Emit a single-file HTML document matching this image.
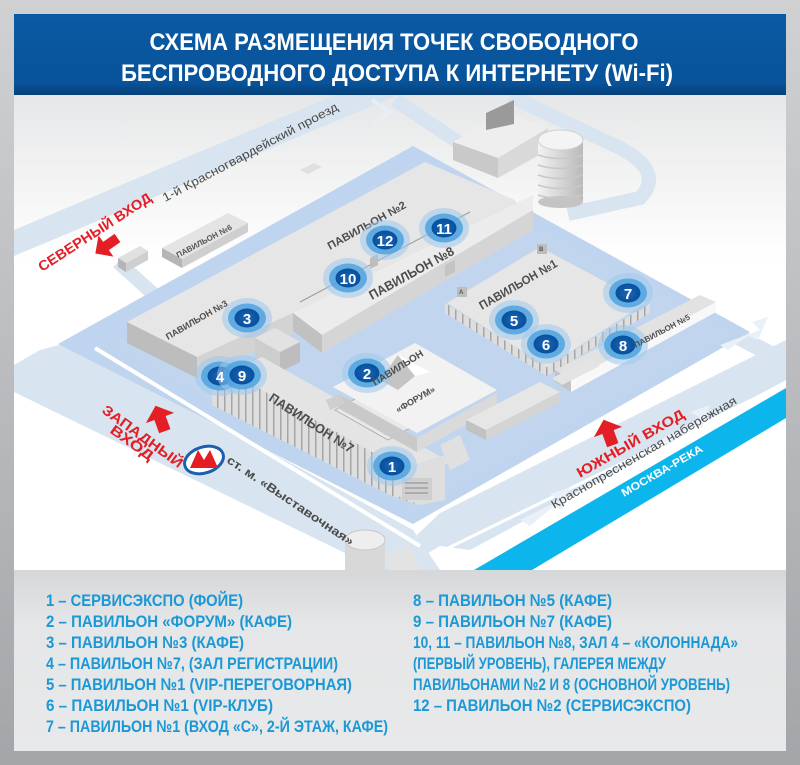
<!DOCTYPE html>
<html><head><meta charset="utf-8"><style>
html,body{margin:0;padding:0;width:800px;height:765px;overflow:hidden}
svg{display:block}
text{font-family:"Liberation Sans",sans-serif;font-weight:bold}
text.n{font-weight:normal}
</style></head><body>
<svg width="800" height="765" viewBox="0 0 800 765" xmlns="http://www.w3.org/2000/svg">
<defs>
<linearGradient id="bg" x1="0" y1="0" x2="0" y2="1"><stop offset="0" stop-color="#d0d1d3"/><stop offset="1" stop-color="#a3a5a8"/></linearGradient>
<linearGradient id="hd" x1="0" y1="0" x2="0" y2="1"><stop offset="0" stop-color="#0b5aa3"/><stop offset=".85" stop-color="#08539a"/><stop offset="1" stop-color="#063f78"/></linearGradient>
<linearGradient id="mp" x1="0" y1="0" x2="0" y2="1"><stop offset="0" stop-color="#e6e7e8"/><stop offset=".35" stop-color="#ffffff"/><stop offset="1" stop-color="#ffffff"/></linearGradient>
<linearGradient id="lg" x1="0" y1="0" x2="0" y2="1"><stop offset="0" stop-color="#d6d7d9"/><stop offset=".3" stop-color="#e5e6e7"/><stop offset="1" stop-color="#e8e9ea"/></linearGradient>
<linearGradient id="tw" x1="0" y1="0" x2="1" y2="0"><stop offset="0" stop-color="#f2f2f2"/><stop offset="1" stop-color="#b9b9b9"/></linearGradient>
<pattern id="rib" width="7" height="4" patternUnits="userSpaceOnUse"><rect width="7" height="4" fill="#dedede"/><rect width="1.5" height="4" fill="#a5a5a5"/></pattern>
<radialGradient id="mk"><stop offset="0" stop-color="#1a66b5"/><stop offset="1" stop-color="#084f9c"/></radialGradient>
<g id="m">
<ellipse rx="25" ry="20" fill="#9fc9ec" opacity=".55"/>
<ellipse rx="19" ry="14.5" fill="#4ea3df" opacity=".85"/>
<ellipse rx="12.5" ry="9.5" fill="url(#mk)"/>
</g>
</defs>
<rect width="800" height="765" fill="url(#bg)"/>
<rect x="14" y="14" width="772" height="81" fill="url(#hd)"/>
<text x="394" y="50" fill="#fff" font-size="24" text-anchor="middle" textLength="489" lengthAdjust="spacingAndGlyphs">СХЕМА РАЗМЕЩЕНИЯ ТОЧЕК СВОБОДНОГО</text>
<text x="397" y="81" fill="#fff" font-size="24" text-anchor="middle" textLength="552" lengthAdjust="spacingAndGlyphs">БЕСПРОВОДНОГО ДОСТУПА К ИНТЕРНЕТУ (Wi-Fi)</text>
<rect x="14" y="95" width="772" height="475" fill="url(#mp)"/>
<clipPath id="mc"><rect x="14" y="95" width="772" height="475"/></clipPath>
<g clip-path="url(#mc)">
<polygon points="14,230 335,95 398,95 14,256" fill="#d8e4ef"/>
<path d="M372,100 L390,112 L372,125" fill="none" stroke="#e6eef6" stroke-width="4"/>
<path d="M395,100 L470,150" stroke="#d8e4ef" stroke-width="14" fill="none"/>
<path d="M510,96 L620,148 Q665,172 640,198 L568,214" stroke="#d8e4ef" stroke-width="14" fill="none"/>
<path d="M500,212 L786,362" stroke="#d8e4ef" stroke-width="16" fill="none"/>
<path d="M118,262 L160,300" stroke="#d8e4ef" stroke-width="14" fill="none"/>
<polygon points="40,350 70,342 413,530 440,570 380,570 14,392 14,365" fill="#d8e4ef"/>
<polygon points="440,513 786,340 786,380 470,550 440,546 400,570 380,570" fill="#d8e4ef"/>
<polygon points="58,344 413,146 750,332 413,524" fill="#bfd4ee"/>
<polygon points="110,345 413,162 735,332 413,512" fill="#c3d7ef" opacity=".6"/>
<line x1="95" y1="348" x2="420" y2="546" stroke="#fff" stroke-width="4"/>
<line x1="440" y1="552" x2="786" y2="383" stroke="#fff" stroke-width="3"/>
<g fill="#e9f0f7">
<polygon points="720,345 760,330 752,322 768,317 758,340 748,336 728,350"/>
<polygon points="660,440 700,418 690,412 710,405 702,428 694,424 670,444"/>
<polygon points="520,520 560,500 550,494 570,487 562,510 554,506 530,526"/>
</g>
<polygon points="474,570 786,388 786,418 532,570" fill="#0cb6ec"/>
<text transform="translate(624,497) rotate(-30)" fill="#fff" font-size="11" textLength="92" lengthAdjust="spacingAndGlyphs">МОСКВА-РЕКА</text>

<polygon points="453,142 505,113 548,128 498,158" fill="#eeeeee"/>
<polygon points="453,142 498,158 498,178 453,160" fill="#c9c9c9"/>
<polygon points="498,158 548,128 548,150 498,178" fill="#d9d9d9"/>
<polygon points="486,113 514,100 514,124 486,130" fill="#9a9a9a"/>
<rect x="538" y="140" width="45" height="62" fill="url(#tw)"/>
<ellipse cx="560.5" cy="202" rx="22.5" ry="6" fill="#c4c4c4"/>
<ellipse cx="560.5" cy="140" rx="22.5" ry="10" fill="#f4f4f4" stroke="#d0d0d0"/>
<g stroke="#c8c8c8" stroke-width="1.5" fill="none">
<path d="M538,155 Q560,162 583,155"/><path d="M538,165 Q560,172 583,165"/><path d="M538,175 Q560,182 583,175"/><path d="M538,185 Q560,192 583,185"/><path d="M538,195 Q560,202 583,195"/>
</g>

<polygon points="118,258 140,246 148,251 126,263" fill="#e0e0e0"/><polygon points="118,258 126,263 126,272 118,267" fill="#b5b5b5"/><polygon points="126,263 148,251 148,260 126,272" fill="#cfcfcf"/>
<polygon points="162,248 228,213 248,223 182,259" fill="#e4e4e4"/>
<polygon points="162,248 182,259 182,268 162,257" fill="#b5b5b5"/>
<polygon points="182,259 248,223 248,232 182,268" fill="#cfcfcf"/>
<text transform="translate(178,258) rotate(-28)" fill="#555" font-size="8">ПАВИЛЬОН №6</text>
<polygon points="357,237 372,230 380,234 365,241" fill="#e0e0e0"/>
<polygon points="300,170 314,163 322,167 308,174" fill="#e0e0e0"/>

<polygon points="127,322 425,162 515,200 515,212 320,330 293,313 197,357" fill="#e6e6e6"/>
<polygon points="127,322 197,357 197,378 127,343" fill="#bdbdbd"/>
<polygon points="197,357 293,313 293,333 197,378" fill="#d3d3d3"/>
<polygon points="293,313 320,300 533,195 533,210 322,335" fill="#ececec"/>
<polygon points="293,313 322,335 322,353 293,331" fill="#c1c1c1"/>
<polygon points="322,335 533,210 533,230 322,353" fill="#d5d5d5"/>
<line x1="300" y1="302" x2="470" y2="212" stroke="#9a9a9a" stroke-width="1"/>
<polygon points="445,265 455,260 455,272 445,277" fill="#c4c4c4"/>
<polygon points="370,258 378,254 378,265 370,269" fill="#bdbdbd"/>

<polygon points="255,338 275,328 300,342 280,352" fill="#e2e2e2"/>
<polygon points="255,338 280,352 280,372 255,358" fill="#cdcdcd"/>
<polygon points="280,352 300,342 300,362 280,372" fill="#bdbdbd"/>
<rect x="245" y="377" width="22" height="4" fill="#555"/>

<polygon points="230,372 262,357 450,462 418,478" fill="#e4e4e4"/>
<polygon points="212,385 230,372 418,478 418,505 390,495 212,405" fill="url(#rib)"/>
<polygon points="395,470 445,455 445,500 420,505 395,495" fill="#dedede"/>
<rect x="402" y="478" width="30" height="22" fill="#cfcfcf"/>
<g stroke="#888" stroke-width="1"><line x1="405" y1="483" x2="428" y2="483"/><line x1="405" y1="488" x2="428" y2="488"/><line x1="405" y1="493" x2="428" y2="493"/></g>
<polygon points="335,410 357,398 410,428 388,440" fill="#e8e8e8" stroke="#aaa" stroke-width=".8"/>
<text transform="translate(343,410) rotate(30)" fill="#555" font-size="7">ПАВИЛЬОН №4</text>
<text transform="translate(268,400) rotate(33)" fill="#4d4d4d" font-size="13" textLength="98" lengthAdjust="spacingAndGlyphs">ПАВИЛЬОН №7</text>

<polygon points="333,387 415,343 497,390 417,433" fill="#f2f2f2"/>
<polygon points="338,394 417,438 417,452 338,408" fill="#c9c9c9"/>
<polygon points="417,438 497,393 497,407 417,452" fill="#dadada"/>
<polygon points="398,355 415,376 398,390 380,380" fill="#c4c4c4"/>
<polygon points="398,355 430,372 415,376" fill="#fff"/>
<polygon points="326,400 340,394 345,404 330,410" fill="#cfcfcf"/>

<polygon points="445,303 445,313 547,376 650,313 650,303 547,367" fill="url(#rib)"/>
<polygon points="447,303 540,247 645,303 547,367" fill="#e6e6e6"/>
<rect x="457" y="287" width="10" height="10" fill="#bdbdbd"/><text x="459" y="294" font-size="6" fill="#555">A</text>
<rect x="537" y="244" width="10" height="10" fill="#bdbdbd"/><text x="539" y="251" font-size="6" fill="#555">B</text>
<text transform="translate(482,310) rotate(-30)" fill="#4d4d4d" font-size="12" textLength="88" lengthAdjust="spacingAndGlyphs">ПАВИЛЬОН №1</text>

<polygon points="555,370 700,295 716,302 571,380" fill="#e2e2e2"/>
<polygon points="571,380 716,302 716,312 571,392" fill="#f8f8f8"/>
<polygon points="555,370 571,380 571,392 555,382" fill="#c4c4c4"/>

<polygon points="552,378 590,360 600,366 562,385" fill="#e4e4e4"/>
<polygon points="466,420 540,382 560,392 486,430" fill="#e6e6e6"/>
<polygon points="466,420 486,430 486,440 466,430" fill="#c2c2c2"/>
<polygon points="486,430 560,392 560,402 486,440" fill="#d4d4d4"/>
<polygon points="440,445 460,435 470,460 450,470" fill="#e0e0e0"/>
<rect x="345" y="540" width="40" height="30" fill="#d8d8d8"/>
<ellipse cx="365" cy="540" rx="20" ry="10" fill="#eeeeee" stroke="#c8c8c8"/>
<polygon points="385,555 410,545 420,570 390,570" fill="#e3e3e3"/>

<text transform="translate(330,250) rotate(-29)" fill="#4d4d4d" font-size="11" textLength="88" lengthAdjust="spacingAndGlyphs">ПАВИЛЬОН №2</text>
<text transform="translate(372,300) rotate(-29)" fill="#4d4d4d" font-size="13" textLength="95" lengthAdjust="spacingAndGlyphs">ПАВИЛЬОН №8</text>
<text transform="translate(168,340) rotate(-30)" fill="#4d4d4d" font-size="9">ПАВИЛЬОН №3</text>

<g font-size="15" fill="#fff" text-anchor="middle">
<use href="#m" x="444" y="228"/><text x="444" y="234">11</text>
<use href="#m" x="385" y="240"/><text x="385" y="246">12</text>
<use href="#m" x="348" y="278"/><text x="348" y="284">10</text>
<use href="#m" x="247" y="318"/><text x="247" y="324">3</text>
<use href="#m" x="514" y="320"/><text x="514" y="326">5</text>
<use href="#m" x="546" y="344"/><text x="546" y="350">6</text>
<use href="#m" x="628" y="293"/><text x="628" y="299">7</text>
<use href="#m" x="623" y="345"/><text x="623" y="351">8</text>
<use href="#m" x="367" y="373"/><text x="367" y="379">2</text>
<use href="#m" x="392" y="466"/><text x="392" y="472">1</text>
<use href="#m" x="220" y="376"/>
<use href="#m" x="242" y="375"/><text x="220" y="382">4</text><text x="242" y="381">9</text>
</g>
<text transform="translate(375,386) rotate(-32)" fill="#4d4d4d" font-size="10">ПАВИЛЬОН</text>
<text transform="translate(398,413) rotate(-30)" fill="#4d4d4d" font-size="9">«ФОРУМ»</text>
<text transform="translate(636,348) rotate(-28)" fill="#4d4d4d" font-size="8">ПАВИЛЬОН №5</text>

<g fill="#e41e25">
<polygon points="0,-13 13,0 5,0 5,14 -5,14 -5,0 -13,0" transform="translate(106,246) rotate(-125)"/>
<polygon points="0,-13 15,0 6,0 6,14 -6,14 -6,0 -15,0" transform="translate(160,418) rotate(-20)"/>
<polygon points="0,-13 15,0 6,0 6,14 -6,14 -6,0 -15,0" transform="translate(608,432) rotate(-20)"/>
</g>
<g fill="#e41e25" font-size="14">
<text transform="translate(42,272) rotate(-33)" textLength="132" lengthAdjust="spacingAndGlyphs">СЕВЕРНЫЙ ВХОД</text>
<text transform="translate(101,412) rotate(36)" textLength="96" lengthAdjust="spacingAndGlyphs">ЗАПАДНЫЙ</text>
<text transform="translate(109,432) rotate(36)" textLength="50" lengthAdjust="spacingAndGlyphs">ВХОД</text>
<text transform="translate(580,478) rotate(-30)" textLength="122" lengthAdjust="spacingAndGlyphs">ЮЖНЫЙ ВХОД</text>
</g>
<g fill="#4a4a4a">
<text class="n" transform="translate(165,202) rotate(-28)" font-size="12" textLength="197" lengthAdjust="spacingAndGlyphs">1-й Красногвардейский проезд</text>
<text class="n" transform="translate(554,509) rotate(-30)" font-size="12" textLength="212" lengthAdjust="spacingAndGlyphs">Краснопресненская набережная</text>
<text transform="translate(226,462) rotate(34)" font-size="12" textLength="150" lengthAdjust="spacingAndGlyphs">ст. м. «Выставочная»</text>
</g>
<ellipse cx="204" cy="460" rx="20" ry="13" transform="rotate(-18 204 460)" fill="#fff" stroke="#1b5fae" stroke-width="3"/>
<polygon points="190,468 198,450 204,460 210,450 218,468" fill="#e41e25"/>
</g>

<rect x="14" y="570" width="772" height="181" fill="url(#lg)"/>
<g fill="#1b98d6" font-size="17">
<text x="46" y="606" textLength="197" lengthAdjust="spacingAndGlyphs">1 – СЕРВИСЭКСПО (ФОЙЕ)</text>
<text x="46" y="627" textLength="246" lengthAdjust="spacingAndGlyphs">2 – ПАВИЛЬОН «ФОРУМ» (КАФЕ)</text>
<text x="46" y="648" textLength="198" lengthAdjust="spacingAndGlyphs">3 – ПАВИЛЬОН №3 (КАФЕ)</text>
<text x="46" y="669" textLength="292" lengthAdjust="spacingAndGlyphs">4 – ПАВИЛЬОН №7, (ЗАЛ РЕГИСТРАЦИИ)</text>
<text x="46" y="690" textLength="306" lengthAdjust="spacingAndGlyphs">5 – ПАВИЛЬОН №1 (VIP-ПЕРЕГОВОРНАЯ)</text>
<text x="46" y="711" textLength="227" lengthAdjust="spacingAndGlyphs">6 – ПАВИЛЬОН №1 (VIP-КЛУБ)</text>
<text x="46" y="732" textLength="342" lengthAdjust="spacingAndGlyphs">7 – ПАВИЛЬОН №1 (ВХОД «С», 2-Й ЭТАЖ, КАФЕ)</text>
<text x="413" y="606" textLength="199" lengthAdjust="spacingAndGlyphs">8 – ПАВИЛЬОН №5 (КАФЕ)</text>
<text x="413" y="627" textLength="199" lengthAdjust="spacingAndGlyphs">9 – ПАВИЛЬОН №7 (КАФЕ)</text>
<text x="413" y="648" textLength="325" lengthAdjust="spacingAndGlyphs">10, 11 – ПАВИЛЬОН №8, ЗАЛ 4 – «КОЛОННАДА»</text>
<text x="413" y="669" textLength="253" lengthAdjust="spacingAndGlyphs">(ПЕРВЫЙ УРОВЕНЬ), ГАЛЕРЕЯ МЕЖДУ</text>
<text x="413" y="690" textLength="317" lengthAdjust="spacingAndGlyphs">ПАВИЛЬОНАМИ №2 И 8 (ОСНОВНОЙ УРОВЕНЬ)</text>
<text x="413" y="711" textLength="278" lengthAdjust="spacingAndGlyphs">12 – ПАВИЛЬОН №2 (СЕРВИСЭКСПО)</text>
</g>
</svg>
</body></html>
